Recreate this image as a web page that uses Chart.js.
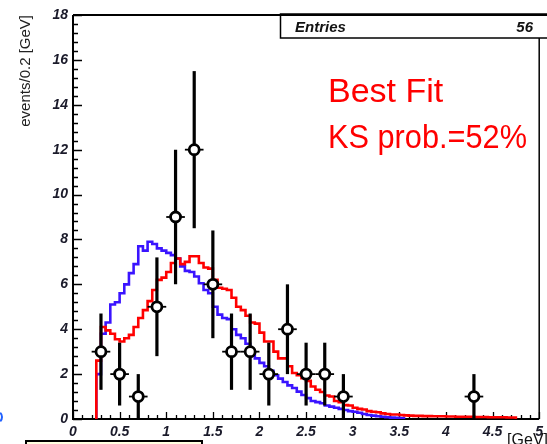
<!DOCTYPE html>
<html>
<head>
<meta charset="utf-8">
<script src="https://cdn.jsdelivr.net/npm/chart.js@4.4.1/dist/chart.umd.min.js"></script>
<style>
  html, body { margin: 0; padding: 0; background: #fff; }
  #wrap { position: relative; width: 547px; height: 444px; }
</style>
</head>
<body>
<div id="wrap"><canvas id="chart" width="547" height="444"></canvas></div>
<script>
/* histograms: 0.05 GeV bins starting at BIN_START */
const BIN_START = 0.25;
const BIN_WIDTH = 0.05;

const BLUE_VALUES = [
  2.0, 3.8, 4.3, 5.1, 5.2, 5.6, 6.0, 6.5, 6.9, 7.7,
  7.5, 7.9, 7.8, 7.6, 7.5, 7.4, 7.3, 7.15, 6.8, 6.6,
  6.55, 6.35, 6.05, 5.75, 5.6, 5.0, 4.65, 4.5, 4.45, 4.0,
  3.75, 3.6, 3.35, 3.0, 2.7, 2.5, 2.35, 2.15, 1.95, 1.8,
  1.65, 1.5, 1.38, 1.22, 1.07, 0.93, 0.8, 0.75, 0.7, 0.6,
  0.55, 0.5, 0.45, 0.4, 0.35, 0.32, 0.28, 0.22, 0.18, 0.15,
  0.12, 0.1, 0.08, 0.06, 0.05, 0.04,
];

const RED_VALUES = [
  2.6, 4.1, 3.95, 3.8, 3.55, 3.45, 3.6, 3.75, 4.1, 4.5,
  4.85, 5.25, 5.75, 6.2, 6.3, 6.55, 6.95, 7.15, 6.9, 7.0,
  7.25, 7.25, 6.95, 6.75, 6.7, 6.2, 5.85, 5.8, 5.75, 5.4,
  5.0, 4.85, 4.6, 4.3, 4.25, 3.85, 3.45, 3.45, 3.0, 2.7,
  2.7, 2.35, 2.05, 1.95, 1.82, 1.7, 1.45, 1.3, 1.2, 1.05,
  1.0, 0.8, 0.75, 0.62, 0.6, 0.5, 0.45, 0.42, 0.35, 0.32,
  0.3, 0.25, 0.22, 0.2, 0.2, 0.18, 0.16, 0.15, 0.14, 0.14,
  0.13, 0.13, 0.12, 0.12, 0.12, 0.11, 0.11, 0.1, 0.1, 0.1,
  0.1, 0.09, 0.09, 0.09, 0.08, 0.08, 0.08, 0.08, 0.07, 0.07,
];

/* measured events, 0.2 GeV bins */
const DATA_X = [0.3, 0.5, 0.7, 0.9, 1.1, 1.3, 1.5, 1.7, 1.9, 2.1, 2.3, 2.5, 2.7, 2.9, 4.3];
const DATA_Y = [3, 2, 1, 5, 9, 12, 6, 3, 3, 2, 4, 2, 2, 1, 1];
const DATA_ERR = [1.7, 1.4, 1, 2.2, 3, 3.5, 2.4, 1.7, 1.7, 1.4, 2, 1.4, 1.4, 1, 1];
const DATA_XERR = 0.1;

const X_TICKS = [0, 0.5, 1, 1.5, 2, 2.5, 3, 3.5, 4, 4.5, 5];
const Y_TICKS = [0, 2, 4, 6, 8, 10, 12, 14, 16, 18];
const X_MINOR_STEP = 0.1;
const Y_MINOR_STEP = 0.4;

const FONT = "'Liberation Sans', Arial, Helvetica, sans-serif";

function histPoints(values) {
  const pts = [{ x: BIN_START, y: 0 }];
  values.forEach((v, i) => pts.push({ x: BIN_START + i * BIN_WIDTH, y: v }));
  pts.push({ x: BIN_START + values.length * BIN_WIDTH, y: 0 });
  return pts;
}

const frameAndTicks = {
  id: "frameAndTicks",
  beforeDatasetsDraw(chart) {
    const { ctx, chartArea: a, scales: { x, y } } = chart;
    ctx.save();
    ctx.strokeStyle = "#000";
    ctx.lineWidth = 1.3;
    ctx.beginPath();
    for (let v = 0; v <= 5.0001; v += X_MINOR_STEP) {
      const px = Math.round(x.getPixelForValue(v)) + 0.5;
      const major = X_TICKS.some((t) => Math.abs(t - v) < 1e-6);
      ctx.moveTo(px, a.bottom);
      ctx.lineTo(px, a.bottom - (major ? 7 : 4));
    }
    for (let v = 0; v <= 18.0001; v += Y_MINOR_STEP) {
      const py = Math.round(y.getPixelForValue(v)) + 0.5;
      const major = Y_TICKS.some((t) => Math.abs(t - v) < 1e-6);
      ctx.moveTo(a.left, py);
      ctx.lineTo(a.left + (major ? 9 : 5), py);
    }
    ctx.stroke();

    ctx.lineWidth = 2;
    ctx.beginPath();
    ctx.moveTo(a.left, a.top);
    ctx.lineTo(a.right + 2, a.top);
    ctx.moveTo(a.left, a.top);
    ctx.lineTo(a.left, a.bottom);
    ctx.lineTo(a.right, a.bottom);
    ctx.stroke();
    ctx.lineWidth = 1.5;
    ctx.beginPath();
    ctx.moveTo(a.right, a.top);
    ctx.lineTo(a.right, a.bottom);
    ctx.stroke();
    ctx.restore();
  },
};

const errorBars = {
  id: "errorBars",
  beforeDatasetDraw(chart, args) {
    if (args.index !== 0) return;
    const { ctx, scales: { x, y } } = chart;
    ctx.save();
    ctx.strokeStyle = "#000";
    DATA_X.forEach((xv, i) => {
      const px = x.getPixelForValue(xv);
      const py = y.getPixelForValue(DATA_Y[i]);
      ctx.lineWidth = 3.2;
      ctx.beginPath();
      ctx.moveTo(px, y.getPixelForValue(DATA_Y[i] - DATA_ERR[i]));
      ctx.lineTo(px, y.getPixelForValue(DATA_Y[i] + DATA_ERR[i]));
      ctx.stroke();
      ctx.lineWidth = 1.8;
      ctx.beginPath();
      ctx.moveTo(x.getPixelForValue(xv - DATA_XERR), py);
      ctx.lineTo(x.getPixelForValue(xv + DATA_XERR), py);
      ctx.stroke();
    });
    ctx.restore();
  },
};

const annotations = {
  id: "annotations",
  afterDraw(chart) {
    const { ctx, chartArea: a } = chart;
    ctx.save();

    // stats box
    ctx.fillStyle = "#fff";
    ctx.fillRect(280, 14, 270, 24);
    ctx.strokeStyle = "#000";
    ctx.lineWidth = 1.5;
    ctx.strokeRect(280.5, 14, 270, 24);
    ctx.lineWidth = 2;
    ctx.beginPath();
    ctx.moveTo(a.left, a.top);
    ctx.lineTo(547, a.top);
    ctx.stroke();
    ctx.fillStyle = "#111";
    ctx.font = "italic bold 15px " + FONT;
    ctx.textBaseline = "alphabetic";
    ctx.textAlign = "left";
    ctx.fillText("Entries", 295, 32);
    ctx.textAlign = "right";
    ctx.fillText("56", 533, 32);

    // fit result
    ctx.fillStyle = "#ff0000";
    ctx.textAlign = "left";
    ctx.font = "34px " + FONT;
    ctx.fillText("Best Fit", 328, 102);
    ctx.fillText("KS prob.=52%", 328, 148, 199);

    // y title
    ctx.save();
    ctx.translate(30, a.top);
    ctx.rotate(-Math.PI / 2);
    ctx.fillStyle = "#222";
    ctx.font = "15px " + FONT;
    ctx.textAlign = "right";
    ctx.fillText("events/0.2 [GeV]", 0, 0);
    ctx.restore();

    // x title (cut at the bottom edge)
    ctx.fillStyle = "#111";
    ctx.font = "16px " + FONT;
    ctx.textAlign = "right";
    ctx.textBaseline = "top";
    ctx.fillText("[GeV]", 548, 433);

    // legend box peeking from below
    ctx.fillStyle = "#ffffe0";
    ctx.fillRect(25, 440, 177, 10);
    ctx.strokeStyle = "#000";
    ctx.lineWidth = 2;
    ctx.strokeRect(26, 441, 176, 10);

    // stray blue mark on the left edge
    ctx.strokeStyle = "#2060ff";
    ctx.lineWidth = 2;
    ctx.beginPath();
    ctx.arc(-4, 417, 6, -0.8, 0.8);
    ctx.stroke();
    ctx.restore();
  },
};

const tickFont = { family: FONT, size: 14, style: "italic", weight: "bold" };

new Chart(document.getElementById("chart"), {
  type: "scatter",
  data: {
    datasets: [
      {
        label: "data",
        data: DATA_X.map((x, i) => ({ x, y: DATA_Y[i] })),
        pointStyle: "circle",
        pointRadius: 5,
        pointBorderWidth: 2.8,
        pointBorderColor: "#000",
        pointBackgroundColor: "#fff",
        showLine: false,
      },
      {
        label: "best fit",
        data: histPoints(RED_VALUES),
        showLine: true,
        stepped: "before",
        borderColor: "#ff0000",
        borderWidth: 2.6,
        pointRadius: 0,
        fill: false,
      },
      {
        label: "alternative",
        data: histPoints(BLUE_VALUES),
        showLine: true,
        stepped: "before",
        borderColor: "#3a14ff",
        borderWidth: 2.6,
        pointRadius: 0,
        fill: false,
      },
    ],
  },
  options: {
    responsive: false,
    animation: false,
    devicePixelRatio: 1,
    layout: { padding: { left: 0, right: 2, top: 15, bottom: 0 } },
    plugins: { legend: { display: false }, tooltip: { enabled: false } },
    scales: {
      x: {
        type: "linear",
        min: 0,
        max: 5,
        grid: { display: false, drawTicks: false },
        border: { display: false },
        afterBuildTicks: (s) => { s.ticks = X_TICKS.map((v) => ({ value: v })); },
        afterFit: (s) => { s.height = 25; s.paddingLeft = 0; s.paddingRight = 0; },
        ticks: { font: tickFont, color: "#1a1a2a", padding: 5, maxRotation: 0, autoSkip: false, callback: (v) => String(v) },
      },
      y: {
        type: "linear",
        min: 0,
        max: 18,
        grid: { display: false, drawTicks: false },
        border: { display: false },
        afterBuildTicks: (s) => { s.ticks = Y_TICKS.map((v) => ({ value: v })); },
        afterFit: (s) => { s.width = 73; s.paddingTop = 0; s.paddingBottom = 0; },
        ticks: { font: tickFont, color: "#1a1a2a", padding: 5, autoSkip: false, callback: (v) => String(v) },
      },
    },
  },
  plugins: [frameAndTicks, errorBars, annotations],
});
</script>
</body>
</html>
